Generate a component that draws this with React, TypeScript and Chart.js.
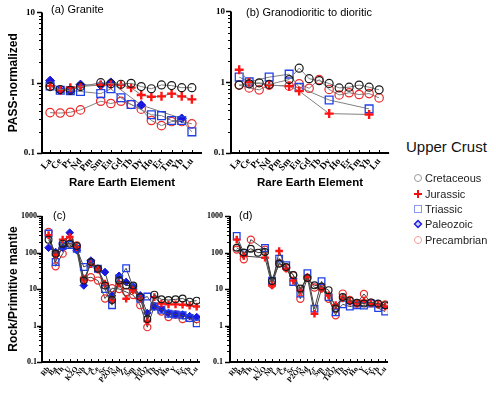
import React, { useEffect, useRef } from 'react';
import { Chart, registerables } from 'chart.js';

Chart.register(...registerables);

const SERIF = '"Liberation Serif", "Times New Roman", serif';
const SANS = '"Liberation Sans", Arial, Helvetica, sans-serif';

// ---------- categories ----------
const REE = ['La', 'Ce', 'Pr', 'Nd', 'Pm', 'Sm', 'Eu', 'Gd', 'Tb', 'Dy', 'Ho', 'Er', 'Tm', 'Yb', 'Lu'];
const SPIDER = ['Rb', 'Ba', 'Th', 'U', 'K2O', 'Nb', 'La', 'Ce', 'Sr', 'P2O5', 'Nd', 'Zr', 'Sm', 'Eu', 'TiO2', 'Tb', 'Dy', 'Ho', 'Y', 'Er', 'Yb', 'Lu'];
const SERIES_NAMES = ['Cretaceous', 'Jurassic', 'Triassic', 'Paleozoic', 'Precambrian'];

// ---------- (a) Granite, PASS-normalized ----------
const aCretaceous = [0.88, 0.8, 0.78, 0.88, null, 1.0, 0.97, 0.95, 0.98, 0.88, 0.82, 0.93, 0.91, 0.85, 0.85];
const aJurassic = [0.9, 0.78, 0.85, 0.88, null, 0.93, 0.95, 0.93, 0.85, 0.67, 0.63, 0.64, 0.7, 0.64, 0.58];
const aTriassic = [0.9, 0.78, 0.77, 0.75, null, 0.7, 0.82, 0.61, 0.49, null, 0.35, 0.34, 0.29, 0.29, 0.2];
const aPaleozoic = [1.07, 0.78, 0.78, 0.94, null, 0.92, 1.01, null, null, 0.48, null, null, null, 0.31, null];
const aPrecambrian = [0.375, 0.37, 0.38, 0.41, null, 0.545, 0.506, 0.545, 0.49, 0.42, 0.29, 0.245, 0.28, 0.28, 0.26];

// ---------- (b) Granodioritic to dioritic ----------
const bCretaceous = [0.91, 0.95, 0.98, 0.93, null, 1.09, 1.58, 1.12, 1.05, 0.96, 0.83, 0.85, 0.91, 0.85, 0.78];
const bJurassic = [1.5, 1.0, null, 0.91, null, 0.88, 0.75, null, null, 0.36, null, null, null, 0.35, null];
const bTriassic = [1.18, 1.01, null, 1.18, null, 1.3, 0.85, null, null, 0.56, null, null, null, 0.42, null];
const bPaleozoic = [null, null, null, null, null, null, null, null, null, null, null, null, null, null, null];
const bPrecambrian = [0.91, 0.83, 0.78, 0.91, null, 0.88, 0.95, 0.82, 1.09, 0.79, 0.66, 0.71, 0.67, 0.69, 0.6];

// ---------- (c) Rock / primitive mantle ----------
const cCretaceous = [225, 93, 175, 175, 150, 17, 55, 36, 12.5, 5, 17, 12.5, 12.5, 6, 1.5, 7, 5.2, 5, 5.2, 5.5, 4.5, 4.8];
const cJurassic = [300, 85, 225, 265, 140, 18, 48, 34, 14, 5, 14, 5.4, 9.2, 5.4, 1.3, 6, 4, 3.8, 3.8, 3.7, 3.5, 3.3];
const cTriassic = [330, 55, 150, 160, 127, 40, 50, 36, 10, 3.6, 19.5, 37, 11, 5.4, 6.2, 3.3, 2.7, 2.1, 2.0, 1.9, 1.6, 1.15];
const cPaleozoic = [135, 103, 135, 350, 115, 12.5, 60, 36, 29, 6.5, 23, 15.6, 11.4, 6.7, 2.2, 3.3, 2.8, 2.2, 2.0, 2.0, 1.8, 1.7];
const cPrecambrian = [365, 42, 93, 215, 157, 19, 21, 17, 5.5, 10.5, 10, 8.3, 6.8, 3.6, 0.9, 3.4, 2.4, 1.7, 2.0, 1.5, 1.6, 1.5];

// ---------- (d) ----------
const dCretaceous = [135, 100, 127, 99, 103, 16.5, 49, 40, 24, 10.3, 20, 12.6, 11.7, 9.3, 2.9, 6, 4.8, 4.2, 4, 4.3, 4, 3.6];
const dJurassic = [225, 80, null, null, 72, 12.5, 110, 36, 17, 9, 21, 2.1, 10, 6.7, 3.6, 5.5, 4.5, 4, 4.8, 4, 3.8, 3.3];
const dTriassic = [283, 97, null, null, 133, 17, 68, 45, 15.6, 7.5, 27, 2.9, 16.3, 6, 2.3, 3.8, 3.3, 3.6, 3.5, 4, 3.0, 2.4];
const dPaleozoic = [null, null, null, null, null, null, null, null, null, null, null, null, null, null, null, null, null, null, null, null, null, null];
const dPrecambrian = [120, 65, 225, null, 120, 13.4, 52, 38, 24, 5.4, 20, 11, 10.8, 5.4, 1.9, 7.5, 5, 4, 7.3, 4.2, 3.8, 3.8];

type Mark = { pointStyle: string; color: string; fill: string; radius: number; width: number };
const MARKS: Record<string, Mark> = {
  Cretaceous: { pointStyle: 'circle', color: '#1a1a1a', fill: 'rgba(0,0,0,0)', radius: 4, width: 1.2 },
  Jurassic: { pointStyle: 'cross', color: '#ff1414', fill: '#ff1414', radius: 4.5, width: 2.4 },
  Triassic: { pointStyle: 'rect', color: '#2040e6', fill: 'rgba(0,0,0,0)', radius: 5.5, width: 1.3 },
  Paleozoic: { pointStyle: 'rectRot', color: '#1818de', fill: '#1818de', radius: 4.5, width: 1 },
  Precambrian: { pointStyle: 'circle', color: '#ec2b2b', fill: 'rgba(0,0,0,0)', radius: 4.2, width: 1.2 },
};

const isPow10 = (v: number) => {
  const l = Math.log10(v);
  return Math.abs(l - Math.round(l)) < 1e-6;
};

function logTicks(min: number, max: number) {
  const out: { value: number }[] = [];
  const e0 = Math.round(Math.log10(min));
  const e1 = Math.round(Math.log10(max));
  for (let e = e0; e < e1; e++) {
    for (let m = 1; m < 10; m++) out.push({ value: parseFloat((m * Math.pow(10, e)).toPrecision(4)) });
  }
  out.push({ value: Math.pow(10, e1) });
  return out;
}

const decoPlugin = {
  id: 'deco',
  afterDatasetsDraw(chart: any, _args: any, o: any) {
    const { ctx, chartArea: ca, scales } = chart;
    const xs = scales.x;
    const ys = scales.y;
    ctx.save();
    ctx.strokeStyle = '#000';
    ys.ticks.forEach((t: any) => {
      const py = Math.round(ys.getPixelForValue(t.value)) + 0.5;
      const maj = isPow10(t.value);
      ctx.lineWidth = maj ? 1.5 : 1;
      ctx.beginPath();
      ctx.moveTo(ca.left, py);
      ctx.lineTo(ca.left - (maj ? o.major : o.minor), py);
      ctx.stroke();
    });
    ctx.lineWidth = 1;
    xs.ticks.forEach((t: any) => {
      const px = Math.round(xs.getPixelForValue(t.value)) + 0.5;
      ctx.beginPath();
      ctx.moveTo(px, ca.bottom);
      ctx.lineTo(px, ca.bottom - o.xTick);
      ctx.stroke();
    });
    ctx.lineWidth = 2;
    ctx.beginPath();
    ctx.moveTo(ca.left, ca.top);
    ctx.lineTo(ca.left, ca.bottom);
    ctx.lineTo(ca.right, ca.bottom);
    ctx.stroke();
    ctx.fillStyle = '#000';
    ctx.font = o.font;
    ctx.textBaseline = 'middle';
    ctx.textAlign = 'left';
    ctx.fillText(o.text, o.tx, o.ty);
    ctx.restore();
  },
};

type Spec = {
  left: number; top: number; width: number; height: number;
  labels: string[];
  series: (number | null)[][];
  xMin: number; xMax: number; yMin: number; yMax: number;
  yWidth: number; xHeight: number; padTop: number; padRight: number;
  yPad: number; yTickSize: number; xTickSize: number;
  xTitle?: string; yTitle?: string;
  title: string; tx: number; ty: number; titleSize: number;
  lineColor: string; markScale: number;
};

function buildConfig(p: Spec): any {
  const datasets = p.series.map((vals, si) => {
    const name = SERIES_NAMES[si];
    const m = MARKS[name];
    return {
      label: name,
      data: vals.map((v, i) => ({ x: i, y: v })),
      showLine: true,
      spanGaps: true,
      borderColor: p.lineColor,
      borderWidth: 1,
      pointStyle: m.pointStyle,
      pointRadius: m.radius * p.markScale,
      pointHoverRadius: m.radius * p.markScale,
      pointBorderColor: m.color,
      pointBackgroundColor: m.fill,
      pointBorderWidth: m.width,
      fill: false,
      tension: 0,
    };
  });
  return {
    type: 'line',
    data: { datasets },
    plugins: [decoPlugin],
    options: {
      responsive: false,
      animation: false,
      events: [],
      layout: { padding: { left: 0, top: p.padTop, right: p.padRight, bottom: 0 } },
      plugins: {
        legend: { display: false },
        tooltip: { enabled: false },
        deco: {
          major: 5, minor: 3, xTick: 3,
          text: p.title, tx: p.tx, ty: p.ty,
          font: `${p.titleSize}px ${SANS}`,
        },
      },
      scales: {
        x: {
          type: 'linear',
          min: p.xMin,
          max: p.xMax,
          afterBuildTicks: (s: any) => { s.ticks = p.labels.map((_, i) => ({ value: i })); },
          afterFit: (s: any) => { s.height = p.xHeight; },
          grid: { display: false, drawTicks: false },
          border: { display: false },
          ticks: {
            autoSkip: false,
            minRotation: 50,
            maxRotation: 50,
            padding: 3,
            color: '#000',
            font: { family: SERIF, size: p.xTickSize, weight: 'bold' },
            callback: (v: any) => p.labels[v] ?? '',
          },
          title: p.xTitle
            ? {
                display: true,
                text: p.xTitle,
                color: '#000',
                font: { family: SANS, size: 11.5, weight: 'bold' },
                padding: { top: 0, bottom: 8 },
              }
            : { display: false },
        },
        y: {
          type: 'logarithmic',
          min: p.yMin,
          max: p.yMax,
          afterBuildTicks: (s: any) => { s.ticks = logTicks(p.yMin, p.yMax); },
          afterFit: (s: any) => { s.width = p.yWidth; },
          grid: { display: false, drawTicks: false },
          border: { display: false },
          ticks: {
            autoSkip: false,
            padding: p.yPad,
            color: '#000',
            font: { family: SERIF, size: p.yTickSize, weight: 'bold' },
            callback: (v: any) => (isPow10(Number(v)) ? String(Number(v)) : ''),
          },
          title: p.yTitle
            ? {
                display: true,
                text: p.yTitle,
                color: '#000',
                font: { family: SANS, size: 12, weight: 'bold' },
                padding: { top: 6, bottom: 0 },
              }
            : { display: false },
        },
      },
    },
  };
}

function Panel({ spec }: { spec: Spec }) {
  const ref = useRef<HTMLCanvasElement>(null);
  useEffect(() => {
    const chart = new Chart(ref.current as HTMLCanvasElement, buildConfig(spec));
    return () => chart.destroy();
  }, []);
  return (
    <canvas
      ref={ref}
      width={spec.width}
      height={spec.height}
      style={{ position: 'absolute', left: spec.left, top: spec.top, width: spec.width, height: spec.height }}
    />
  );
}

const PANELS: Spec[] = [
  {
    left: 0, top: 0, width: 210, height: 198,
    labels: REE,
    series: [aCretaceous, aJurassic, aTriassic, aPaleozoic, aPrecambrian],
    xMin: -0.8, xMax: 15, yMin: 0.1, yMax: 10,
    yWidth: 42, xHeight: 45, padTop: 9, padRight: 8,
    yPad: 7, yTickSize: 9, xTickSize: 9.5,
    xTitle: 'Rare Earth Element', yTitle: 'PASS-normalized',
    title: '(a) Granite', tx: 51, ty: 10, titleSize: 11,
    lineColor: '#808080', markScale: 1,
  },
  {
    left: 200, top: 0, width: 196, height: 198,
    labels: REE,
    series: [bCretaceous, bJurassic, bTriassic, bPaleozoic, bPrecambrian],
    xMin: -0.82, xMax: 15, yMin: 0.1, yMax: 10,
    yWidth: 31, xHeight: 45, padTop: 9, padRight: 5,
    yPad: 6, yTickSize: 9, xTickSize: 9.5,
    xTitle: 'Rare Earth Element',
    title: '(b) Granodioritic to dioritic', tx: 46, ty: 13, titleSize: 11,
    lineColor: '#808080', markScale: 1,
  },
  {
    left: 0, top: 200, width: 210, height: 194,
    labels: SPIDER,
    series: [cCretaceous, cJurassic, cTriassic, cPaleozoic, cPrecambrian],
    xMin: -0.93, xMax: 21.47, yMin: 0.1, yMax: 1000,
    yWidth: 42, xHeight: 32, padTop: 16, padRight: 10,
    yPad: 5, yTickSize: 8, xTickSize: 7.5,
    yTitle: 'Rock/Primitive mantle',
    title: '(c)', tx: 53, ty: 15.5, titleSize: 11,
    lineColor: '#444444', markScale: 0.85,
  },
  {
    left: 200, top: 200, width: 196, height: 194,
    labels: SPIDER,
    series: [dCretaceous, dJurassic, dTriassic, dPaleozoic, dPrecambrian],
    xMin: -0.95, xMax: 21.4, yMin: 0.1, yMax: 1000,
    yWidth: 30, xHeight: 32, padTop: 16, padRight: 8,
    yPad: 7, yTickSize: 8, xTickSize: 7.5,
    title: '(d)', tx: 39, ty: 15.5, titleSize: 11,
    lineColor: '#444444', markScale: 0.85,
  },
];

function LegendSymbol({ name }: { name: string }) {
  const s = 10;
  if (name === 'Cretaceous')
    return <svg width={s} height={s}><circle cx={5} cy={5} r={3.5} fill="none" stroke="#9a9a9a" strokeWidth={1} /></svg>;
  if (name === 'Jurassic')
    return (
      <svg width={s} height={s}>
        <line x1={5} y1={1} x2={5} y2={9} stroke="#ee1111" strokeWidth={2} />
        <line x1={1} y1={5} x2={9} y2={5} stroke="#ee1111" strokeWidth={2} />
      </svg>
    );
  if (name === 'Triassic')
    return <svg width={s} height={s}><rect x={1.5} y={1.5} width={7} height={7} fill="none" stroke="#8a98f2" strokeWidth={1} /></svg>;
  if (name === 'Paleozoic')
    return <svg width={s} height={s}><polygon points="5,1.5 8.5,5 5,8.5 1.5,5" fill="#c8ccff" stroke="#1818de" strokeWidth={1.4} /></svg>;
  return <svg width={s} height={s}><circle cx={5} cy={5} r={3.5} fill="none" stroke="#f2a0a0" strokeWidth={1} /></svg>;
}

function Legend() {
  const ys = [178, 193.5, 209, 224.3, 239.5];
  return (
    <>
      <div
        style={{
          position: 'absolute', left: 406, top: 139, height: 16, lineHeight: '16px',
          fontFamily: SANS, fontSize: 15, color: '#111', whiteSpace: 'nowrap',
        }}
      >
        Upper Crust
      </div>
      {SERIES_NAMES.map((n, i) => (
        <div
          key={n}
          style={{
            position: 'absolute', left: 413, top: ys[i] - 7, height: 14, lineHeight: '14px',
            display: 'flex', alignItems: 'center', fontFamily: SANS, fontSize: 11, color: '#222', whiteSpace: 'nowrap',
          }}
        >
          <LegendSymbol name={n} />
          <span style={{ marginLeft: 2 }}>{n}</span>
        </div>
      ))}
    </>
  );
}

export default function App() {
  return (
    <div style={{ position: 'absolute', left: 0, top: 0, width: 496, height: 394, background: '#fff', overflow: 'hidden' }}>
      {PANELS.map((p, i) => (
        <Panel key={i} spec={p} />
      ))}
      <Legend />
    </div>
  );
}
